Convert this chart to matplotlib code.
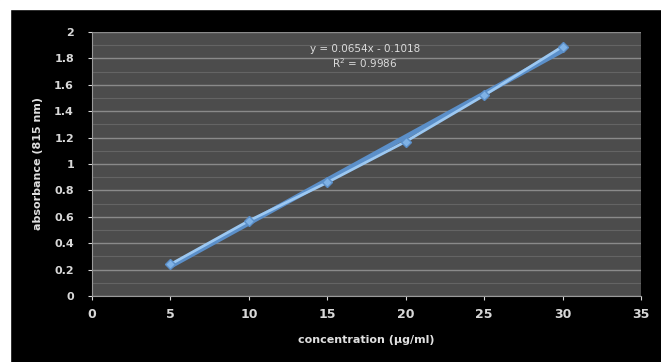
import numpy as np
import matplotlib.pyplot as plt
from matplotlib.patches import Rectangle

# data
conc = [5, 10, 15, 20, 25, 30]
absorb = [0.24, 0.57, 0.86, 1.17, 1.52, 1.89]
slope = 0.0654
intercept = -0.1018

fig = plt.figure(figsize=(6.61, 3.62), dpi=100)
fig.patch.set_facecolor("black")
# white margin at top and left like the scanned original
fig.add_artist(Rectangle((0, 0), 10 / 661, 1, transform=fig.transFigure, color="white", zorder=-1))
fig.add_artist(Rectangle((0, 1 - 9 / 362), 1, 9 / 362, transform=fig.transFigure, color="white", zorder=-1))

ax = fig.add_axes([92 / 661, 1 - 296 / 362, 549 / 661, 264 / 362])
ax.set_facecolor("#4c4c4c")

ax.set_xlim(0, 35)
ax.set_ylim(0, 2)
ax.set_xticks(np.arange(0, 36, 5))
ax.set_yticks(np.arange(0, 2.01, 0.2))
ax.set_yticklabels(["0", "0.2", "0.4", "0.6", "0.8", "1", "1.2", "1.4", "1.6", "1.8", "2"])
ax.set_yticks(np.arange(0.1, 2.0, 0.2), minor=True)

ax.grid(axis="y", which="major", color="#8a8a8a", linewidth=1.0)
ax.grid(axis="y", which="minor", color="#646464", linewidth=0.8)
ax.set_axisbelow(True)

for s in ["top", "right"]:
    ax.spines[s].set_visible(False)
ax.spines["left"].set_color("#9a9a9a")
ax.spines["bottom"].set_color("#9a9a9a")

ax.tick_params(axis="x", colors="#d8d8d8", labelsize=9, length=3, pad=6)
ax.tick_params(axis="y", which="major", colors="#d8d8d8", labelsize=8, length=3, pad=10)
ax.tick_params(axis="y", which="minor", length=0)
for lbl in ax.get_xticklabels() + ax.get_yticklabels():
    lbl.set_fontweight("bold")

# trendline and series
xt = np.array([conc[0], conc[-1]])
ax.plot(xt, slope * xt + intercept, color="#5b8fc9", linewidth=3.5, solid_capstyle="round")
ax.plot(conc, absorb, color="#9cc8f2", linewidth=2, marker="D", markersize=5,
        markerfacecolor="#7fb2e6", markeredgecolor="#5b8fc9")

ax.text(0.497, 0.925, "y = 0.0654x - 0.1018", transform=ax.transAxes, ha="center",
        color="#dcdcdc", fontsize=7.5)
ax.text(0.497, 0.862, "R$^2$ = 0.9986", transform=ax.transAxes, ha="center",
        color="#dcdcdc", fontsize=7.5)

ax.set_xlabel("concentration (µg/ml)", color="#e0e0e0", fontsize=8, fontweight="bold", labelpad=10)
ax.set_ylabel("absorbance (815 nm)", color="#e0e0e0", fontsize=8, fontweight="bold", labelpad=8)

fig.savefig("out.png", dpi=100, facecolor=fig.get_facecolor())
